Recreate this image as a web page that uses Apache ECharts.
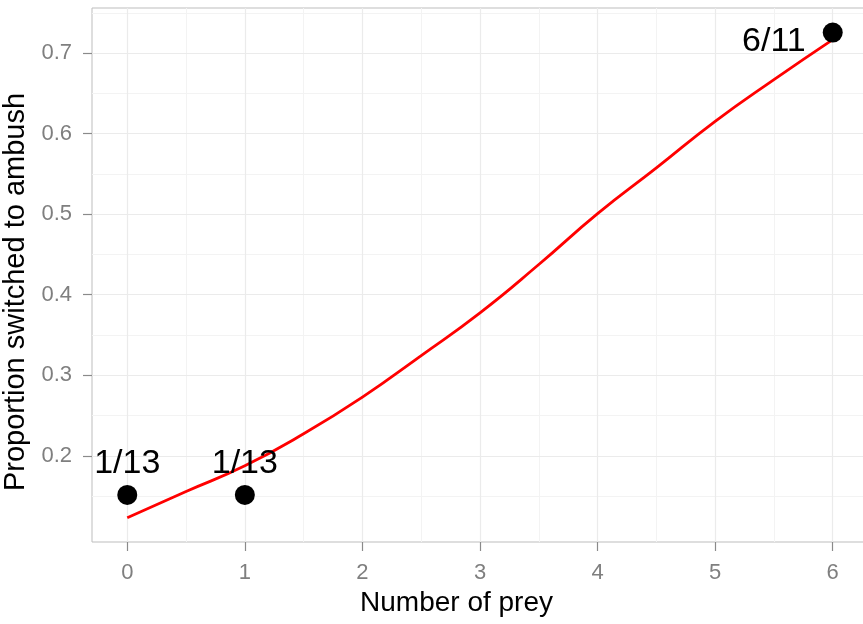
<!DOCTYPE html>
<html>
<head>
<meta charset="utf-8">
<script src="https://cdn.jsdelivr.net/npm/echarts@6/dist/echarts.min.js"></script>
<style>
html,body{margin:0;padding:0;background:#fff;}
#chart{width:863px;height:624px;}
</style>
</head>
<body>
<div id="chart"></div>
<script>
// Fitted curve
const curveX = [0, 0.5, 1, 1.5, 2, 2.5, 3, 3.5, 4, 4.5, 5, 5.5, 6];
const curveY = [0.123, 0.1557, 0.1876, 0.2273, 0.2729, 0.3245, 0.3775, 0.4375, 0.5006, 0.5574, 0.6153, 0.6671, 0.7168];
// Observed points
const pointX = [0, 1, 6];
const pointY = [0.1515, 0.1515, 0.7255];
const pointLabels = ['1/13', '1/13', '6/11'];
// Ticks / grid
const xTicks = [0, 1, 2, 3, 4, 5, 6];
const xMinor = [0.5, 1.5, 2.5, 3.5, 4.5, 5.5];
const yTicks = [0.2, 0.3, 0.4, 0.5, 0.6, 0.7];
const yMinor = [0.15, 0.25, 0.35, 0.45, 0.55, 0.65, 0.75];
const xRange = [-0.3, 6.3];
const yRange = [0.093, 0.756];
const xTitle = 'Number of prey';
const yTitle = 'Proportion switched to ambush';

const FONT = '"Liberation Sans", Arial, sans-serif';
const chart = echarts.init(document.getElementById('chart'), null, {renderer: 'canvas'});

const gridLines = [];
xMinor.forEach(v => gridLines.push({xAxis: v, lineStyle: {color: '#f3f3f3', width: 1}}));
yMinor.forEach(v => gridLines.push({yAxis: v, lineStyle: {color: '#f3f3f3', width: 1}}));
xTicks.forEach(v => gridLines.push({xAxis: v, lineStyle: {color: '#ebebeb', width: 1.2}}));
yTicks.forEach(v => gridLines.push({yAxis: v, lineStyle: {color: '#ebebeb', width: 1.2}}));

const labelPos = [
  {position: 'top', distance: 4},
  {position: 'top', distance: 4},
  {position: 'left', distance: 17, offset: [0, 9]}
];

chart.setOption({
  animation: false,
  backgroundColor: '#ffffff',
  grid: {
    left: 92, top: 8, width: 776, height: 534,
    outerBoundsMode: 'none', containLabel: false,
    show: true, borderColor: '#bdbdbd', borderWidth: 1, backgroundColor: 'transparent'
  },
  xAxis: {
    type: 'value', min: xRange[0], max: xRange[1],
    name: xTitle, nameLocation: 'middle', nameGap: 46,
    nameTextStyle: {fontFamily: FONT, fontSize: 28, color: '#000', padding: [0, 47, 0, 0]},
    axisLine: {show: false, onZero: false},
    axisTick: {show: true, length: 9, customValues: xTicks, lineStyle: {color: '#8a8a8a', width: 1.2}},
    axisLabel: {customValues: xTicks, margin: 20, fontFamily: FONT, fontSize: 22, color: '#7f7f7f',
      formatter: v => String(v)},
    splitLine: {show: false}
  },
  yAxis: {
    type: 'value', min: yRange[0], max: yRange[1],
    name: yTitle, nameLocation: 'middle', nameGap: 52,
    nameTextStyle: {fontFamily: FONT, fontSize: 29, color: '#000', padding: [0, 34, 0, 0]},
    axisLine: {show: false, onZero: false},
    axisTick: {show: true, length: 9, customValues: yTicks, lineStyle: {color: '#8a8a8a', width: 1.2}},
    axisLabel: {customValues: yTicks, margin: 20, fontFamily: FONT, fontSize: 22, color: '#7f7f7f',
      formatter: v => v.toFixed(1)},
    splitLine: {show: false}
  },
  series: [
    {
      type: 'line', z: 1, zlevel: 0, silent: true, symbol: 'none',
      data: [[xRange[0] - 10, yRange[0] - 10]],
      lineStyle: {opacity: 0},
      markLine: {silent: true, symbol: 'none', label: {show: false}, animation: false,
        lineStyle: {type: 'solid'}, data: gridLines}
    },
    {
      type: 'line', z: 3, zlevel: 1, symbol: 'none', smooth: 0.5,
      data: curveX.map((x, i) => [x, curveY[i]]),
      lineStyle: {color: '#ff0000', width: 2.8}
    },
    {
      type: 'scatter', z: 4, zlevel: 1, symbol: 'circle', symbolSize: 20,
      itemStyle: {color: '#000000', opacity: 1},
      data: pointX.map((x, i) => ({
        value: [x, pointY[i]],
        label: Object.assign({show: true, formatter: pointLabels[i], fontFamily: FONT, fontSize: 34,
          color: '#000000', opacity: 1, textBorderWidth: 0}, labelPos[i])
      }))
    }
  ]
});
</script>
</body>
</html>
